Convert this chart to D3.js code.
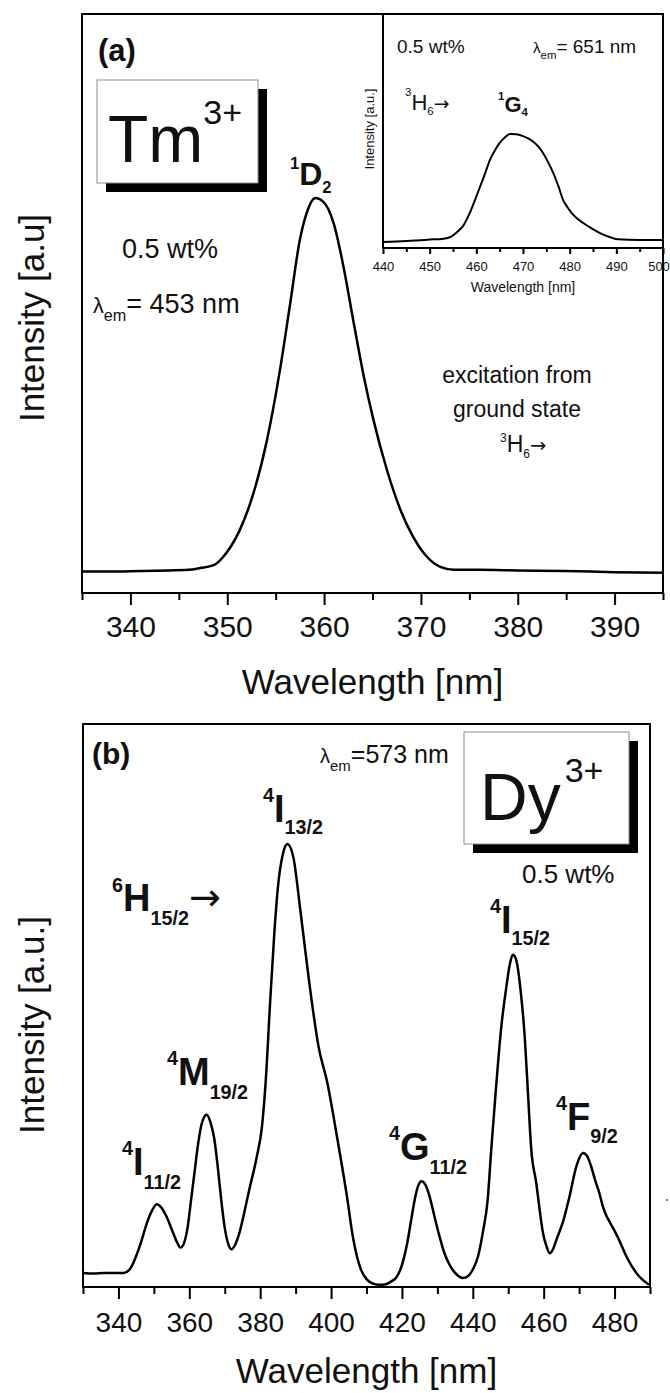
<!DOCTYPE html>
<html>
<head>
<meta charset="utf-8">
<script src="https://cdn.jsdelivr.net/npm/d3@7"></script>
<style>
body { margin: 0; background: #fff; }
svg { display: block; }
text { font-family: "Liberation Sans", Arial, Helvetica, sans-serif; fill: #111; }
</style>
</head>
<body>
<svg id="chart" width="670" height="1393"></svg>
<script>
// ---- data ----
// (a) Tm3+ excitation, lambda_em = 453 nm
var tmWavelength = [335, 338, 341, 344, 346, 347.2, 348.6, 349.9, 351.3, 352.7, 354.1, 355.5, 356.5, 357.5,
    358.2, 359.1, 359.9, 361, 362, 363, 364.1, 365.1, 366.5, 367.9, 369.2, 370.6, 372, 373.4, 376, 380, 385, 390, 395];
var tmIntensity = [3.7, 3.7, 3.8, 3.9, 4.0, 4.3, 4.8, 6.9, 10.9, 17.2, 26.4, 39.1, 50, 61,
    65.6, 68.2, 67.6, 63.8, 56.4, 47.2, 37.4, 29.9, 21.2, 14.3, 9.7, 6.3, 4.5, 4.0, 4.0, 3.9, 3.8, 3.6, 3.5];

// (a) inset, lambda_em = 651 nm
var insetWavelength = [440, 445, 450, 453, 454.5, 455.4, 456.3, 457.2, 458, 458.6, 459.7, 460.8, 461.9, 462.9,
    464, 465, 466.1, 467.2, 468.5, 470, 471.1, 472.2, 473.3, 474.3, 475.4, 476.5, 477.6, 478.6, 479.5, 480.4,
    481.6, 482.9, 484.7, 486.5, 488.4, 490.3, 495, 500];
var insetIntensity = [2.6, 3.0, 3.6, 4.0, 4.8, 6.0, 7.6, 9.5, 12.5, 15, 20.5, 26.2, 32, 37.6,
    41.8, 44.9, 47.2, 48.7, 48.6, 47.8, 46.8, 45.4, 43.3, 40.6, 36.6, 32, 26.3, 20.5, 17.5, 15,
    12.6, 10.7, 8.4, 6.4, 4.8, 3.7, 3.4, 3.4];

// (b) Dy3+ excitation, lambda_em = 573 nm
var dyWavelength = [330, 333, 336, 339, 341.5, 343, 344, 345, 346.5, 348, 349.5, 350.8, 352, 353.5, 355, 356.5,
    357.5, 358.5, 359.5, 360.5, 361.5, 362.5, 363.5, 364.9, 366, 367, 368, 369, 370, 371, 371.9, 373, 374,
    375.5, 377, 379, 380.5, 381.5, 382.8, 384, 385, 386.4, 387.7, 389.4, 391.3, 393.7, 396.5, 398.9, 401.7,
    404.6, 406, 407.4, 408.5, 410, 411.5, 413.5, 415.5, 417, 418.4, 419.5, 420.5, 421.5, 422.5, 423.6, 424.6,
    425.5, 426.6, 427.8, 429, 430.6, 432, 433.4, 435, 437.2, 438.8, 440, 441.5, 442.8, 444.2, 445.2, 446.5,
    448, 449.4, 450.5, 451.3, 452.2, 453.6, 454.7, 455.6, 456.5, 457.9, 458.9, 459.8, 460.8, 461.7, 462.7,
    463.6, 465.5, 467.3, 469.2, 471.1, 472.3, 473.4, 474.6, 475.7, 476.6, 477.6, 478.5, 480.8, 483.6, 486.9, 489.7];
var dyIntensity = [2.5, 2.4, 2.5, 2.5, 2.5, 3.0, 4.0, 5.5, 8.2, 11.3, 13.6, 14.7, 14.2, 12.6, 10.3, 8.0,
    7.0, 7.8, 10.5, 15.5, 20.5, 25.5, 29.0, 30.6, 29.2, 26.5, 21.5, 15.5, 10.5, 7.6, 6.7, 7.6, 9.3,
    13.2, 17.5, 23, 28.5, 36, 50.5, 63, 71, 76.9, 78.7, 76.2, 67.1, 54.8, 42.6, 36.4, 26.6,
    15.6, 9.5, 5.2, 3.0, 1.4, 0.7, 0.4, 0.5, 1.0, 1.7, 3.0, 5.0, 7.8, 11.5, 15.5, 18,
    18.8, 18.2, 16.1, 13, 9.0, 6.0, 4.0, 2.5, 1.6, 2.0, 3.1, 5.5, 9.6, 15.5, 24.4, 35,
    46, 53, 57.5, 59, 58.2, 52, 44, 34, 24.4, 18.5, 13.5, 9.6, 7.2, 6.0, 6.8,
    8.4, 11.7, 16.1, 21.4, 23.8, 23.2, 21.4, 18.8, 16.7, 14.5, 12.8, 11.7, 9.0, 5.1, 1.9, 0.4];

// tick values
var tmMajorTicks = [340, 350, 360, 370, 380, 390];
var tmMinorTicks = [335, 345, 355, 365, 375, 385, 395];
var insetMajorTicks = [440, 450, 460, 470, 480, 490, 500];
var insetMinorTicks = [445, 455, 465, 475, 485, 495];
var dyMajorTicks = [340, 360, 380, 400, 420, 440, 460, 480];
var dyMinorTicks = [330, 350, 370, 390, 410, 430, 450, 470, 490];

var svg = d3.select("#chart");

function zip(xs, ys) {
    return xs.map(function(v, i) { return [v, ys[i]]; });
}

function drawCurve(g, x, y, data, width) {
    var line = d3.line()
        .x(function(d) { return x(d[0]); })
        .y(function(d) { return y(d[1]); })
        .curve(d3.curveMonotoneX);
    g.append("path")
        .datum(data)
        .attr("d", line)
        .attr("fill", "none")
        .attr("stroke", "#000")
        .attr("stroke-width", width)
        .attr("stroke-linejoin", "round");
}

// bottom axis with major (labelled) and minor ticks
function drawAxis(g, x, yPos, major, minor, majorLen, minorLen, fontSize, pad) {
    var minorAxis = d3.axisBottom(x).tickValues(minor).tickSize(minorLen).tickFormat("");
    var majorAxis = d3.axisBottom(x).tickValues(major).tickSize(majorLen).tickPadding(pad)
        .tickFormat(d3.format("d"));
    var gMin = g.append("g").attr("transform", "translate(0," + yPos + ")").call(minorAxis);
    var gMaj = g.append("g").attr("transform", "translate(0," + yPos + ")").call(majorAxis);
    [gMin, gMaj].forEach(function(a) {
        a.select(".domain").remove();
        a.selectAll("line").attr("stroke", "#000").attr("stroke-width", 2);
    });
    gMaj.selectAll("text")
        .style("font-size", fontSize + "px")
        .style("font-family", "'Liberation Sans', Arial, sans-serif")
        .attr("fill", "#111");
    return gMaj;
}

// spectroscopic term like 4I13/2 drawn as sup/main/sub
function termLabel(g, x, y, sup, main, sub, size, bold, arrow, supUp, subDown) {
    var small = size * 0.52;
    supUp = supUp || size * 0.52;
    subDown = subDown || size * 0.32;
    var t = g.append("text").attr("x", x).attr("y", y - supUp)
        .attr("font-weight", bold ? "bold" : "normal");
    t.append("tspan").attr("font-size", small).text(sup);
    t.append("tspan").attr("font-size", size).attr("dy", supUp).text(main);
    t.append("tspan").attr("font-size", small).attr("dy", subDown).text(sub);
    if (arrow) {
        t.append("tspan").attr("font-size", bold ? size : size * 0.85)
            .attr("font-weight", "normal")
            .style("font-family", "'DejaVu Sans', sans-serif")
            .attr("dy", -subDown - size * 0.02).text("\u2192");
    }
    return t;
}

// lambda_em = ... label
function lambdaLabel(g, x, y, size, rest) {
    var t = g.append("text").attr("x", x).attr("y", y).attr("font-size", size);
    t.append("tspan").attr("font-size", size * 0.8).text("\u03bb");
    t.append("tspan").attr("font-size", size * 0.6).attr("dy", size * 0.3).text("em");
    t.append("tspan").attr("dy", -size * 0.3).text(rest);
    return t;
}

// element symbol in a box with a black drop shadow
function elementBox(g, bx, by, bw, bh, sym, tx, ty, supDx) {
    g.append("rect").attr("x", bx + 9).attr("y", by + 9).attr("width", bw).attr("height", bh)
        .attr("fill", "#000");
    g.append("rect").attr("x", bx).attr("y", by).attr("width", bw).attr("height", bh)
        .attr("fill", "#fff").attr("stroke", "#8c8c8c").attr("stroke-width", 1);
    var t = g.append("text").attr("x", tx).attr("y", ty).attr("font-size", 66);
    t.append("tspan").text(sym);
    t.append("tspan").attr("font-size", 34).attr("dx", supDx).attr("dy", -38).text("3+");
}

function rotatedLabel(g, cx, cy, size, txt) {
    g.append("text")
        .attr("transform", "translate(" + cx + "," + cy + ") rotate(-90)")
        .attr("text-anchor", "middle")
        .attr("font-size", size)
        .text(txt);
}

// ================= panel (a) =================
var a = { left: 82, right: 663, top: 14, bottom: 593 };
var xa = d3.scaleLinear().domain([335, 395]).range([a.left, a.right]);
var ya = d3.scaleLinear().domain([0, 100]).range([a.bottom, a.top]);
var ga = svg.append("g");

drawCurve(ga, xa, ya, zip(tmWavelength, tmIntensity), 2.5);
drawAxis(ga, xa, a.bottom, tmMajorTicks, tmMinorTicks, 12, 7, 30, 11);
ga.append("rect").attr("x", a.left).attr("y", a.top)
    .attr("width", a.right - a.left).attr("height", a.bottom - a.top)
    .attr("fill", "none").attr("stroke", "#000").attr("stroke-width", 2);

ga.append("text").attr("x", (a.left + a.right) / 2).attr("y", 694)
    .attr("text-anchor", "middle").attr("font-size", 35).text("Wavelength [nm]");
rotatedLabel(ga, 44, 318, 35, "Intensity [a.u]");

ga.append("text").attr("x", 98).attr("y", 61).attr("font-size", 31).attr("font-weight", "bold").text("(a)");
elementBox(ga, 97, 80, 161, 103, "Tm", 108, 162, 0);
termLabel(ga, 290, 185, "1", "D", "2", 32, true, false, 16, 8);
ga.append("text").attr("x", 122).attr("y", 258).attr("font-size", 27).text("0.5 wt%");
lambdaLabel(ga, 93, 313, 27, "= 453 nm");

ga.append("text").attr("x", 517).attr("y", 383).attr("text-anchor", "middle").attr("font-size", 23)
    .text("excitation from");
ga.append("text").attr("x", 517).attr("y", 417).attr("text-anchor", "middle").attr("font-size", 23)
    .text("ground state");
termLabel(ga, 500, 452, "3", "H", "6", 23, false, true, 10, 6);

// inset
var ins = { left: 383, right: 663, top: 14, bottom: 248 };
var xi = d3.scaleLinear().domain([440, 500]).range([ins.left, ins.right]);
var yi = d3.scaleLinear().domain([0, 100]).range([ins.bottom, ins.top]);
var gi = svg.append("g");
gi.append("rect").attr("x", ins.left).attr("y", ins.top)
    .attr("width", ins.right - ins.left).attr("height", ins.bottom - ins.top)
    .attr("fill", "#fff").attr("stroke", "#000").attr("stroke-width", 2);
drawCurve(gi, xi, yi, zip(insetWavelength, insetIntensity), 2);
var insAxis = drawAxis(gi, xi, ins.bottom, insetMajorTicks, insetMinorTicks, 6, 4, 13, 8);
// last label sits on the frame edge; nudge it so it stays inside the page
insAxis.selectAll(".tick text").filter(function(d) { return d === 500; }).attr("dx", -4.5);
gi.append("text").attr("x", (ins.left + ins.right) / 2).attr("y", 292)
    .attr("text-anchor", "middle").attr("font-size", 14).text("Wavelength [nm]");
rotatedLabel(gi, 374, 129, 13, "Intensity [a.u.]");
gi.append("text").attr("x", 397).attr("y", 53).attr("font-size", 19).text("0.5 wt%");
lambdaLabel(gi, 533, 53, 19, "= 651 nm");
termLabel(gi, 405, 110, "3", "H", "6", 22, false, true, 14, 5);
termLabel(gi, 498, 112, "1", "G", "4", 22, true, false, 12, 4);

// ================= panel (b) =================
var b = { left: 83, right: 650, top: 724, bottom: 1287 };
var xb = d3.scaleLinear().domain([330, 490]).range([b.left, b.right]);
var yb = d3.scaleLinear().domain([0, 100]).range([b.bottom, b.top]);
var gb = svg.append("g");

drawCurve(gb, xb, yb, zip(dyWavelength, dyIntensity), 2.5);
drawAxis(gb, xb, b.bottom, dyMajorTicks, dyMinorTicks, 12, 7, 28, 13);
gb.append("rect").attr("x", b.left).attr("y", b.top)
    .attr("width", b.right - b.left).attr("height", b.bottom - b.top)
    .attr("fill", "none").attr("stroke", "#000").attr("stroke-width", 2);

gb.append("text").attr("x", (b.left + b.right) / 2).attr("y", 1383)
    .attr("text-anchor", "middle").attr("font-size", 35).text("Wavelength [nm]");
rotatedLabel(gb, 44, 1025, 35, "Intensity [a.u.]");

gb.append("text").attr("x", 92).attr("y", 764).attr("font-size", 30).attr("font-weight", "bold").text("(b)");
lambdaLabel(gb, 320, 763, 25, "=573 nm");
elementBox(gb, 464, 732, 165, 112, "Dy", 480, 820, 4);
gb.append("text").attr("x", 522).attr("y", 883).attr("font-size", 26).text("0.5 wt%");

termLabel(gb, 112, 911, "6", "H", "15/2", 38, true, true, 19, 14);
termLabel(gb, 263, 822, "4", "I", "13/2", 38, true, false, 20, 12);
termLabel(gb, 167, 1085, "4", "M", "19/2", 38, true, false, 20, 14);
termLabel(gb, 122, 1175, "4", "I", "11/2", 38, true, false, 20, 14);
termLabel(gb, 389, 1160, "4", "G", "11/2", 38, true, false, 20, 14);
termLabel(gb, 490, 933, "4", "I", "15/2", 38, true, false, 20, 12);
termLabel(gb, 556, 1130, "4", "F", "9/2", 38, true, false, 20, 13);

// stray speck right of panel (b) in the original
gb.append("circle").attr("cx", 667).attr("cy", 1200).attr("r", 1).attr("fill", "#555");
</script>
</body>
</html>
